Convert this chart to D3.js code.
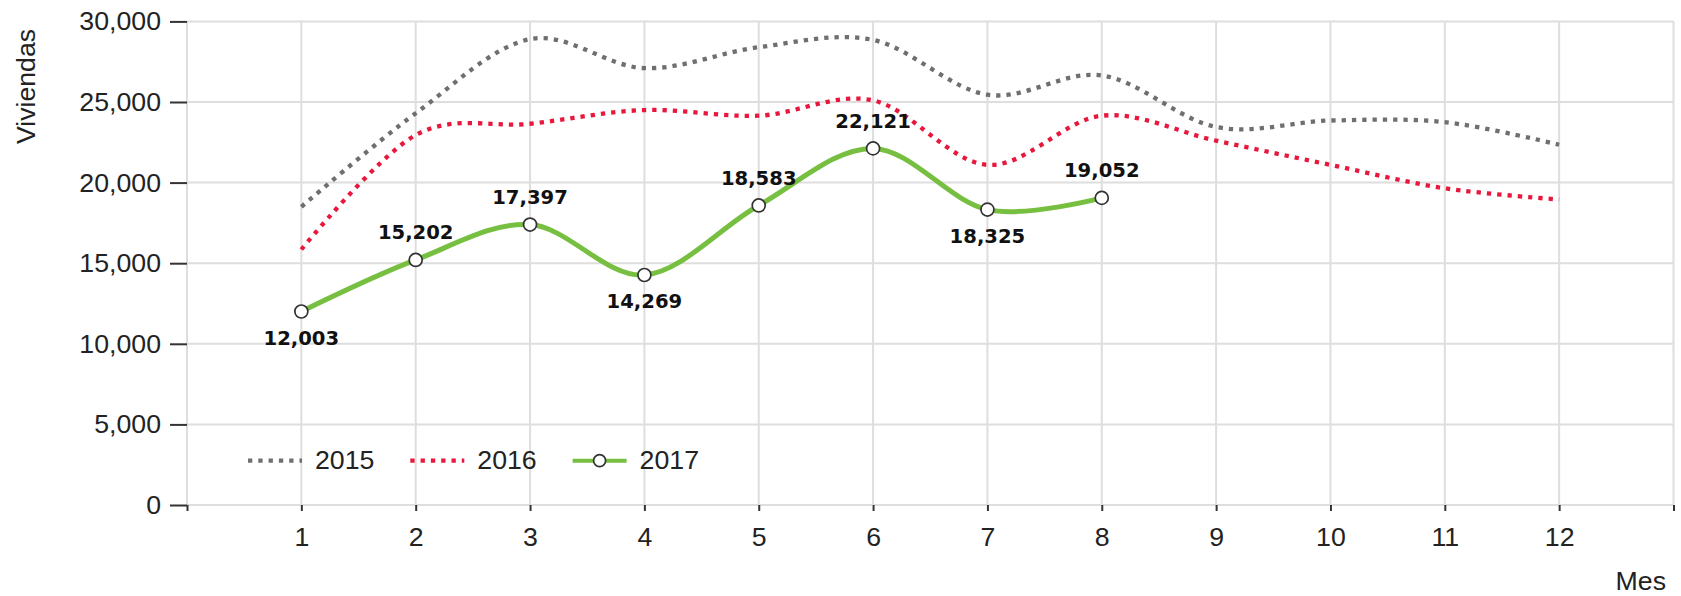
<!DOCTYPE html>
<html>
<head>
<meta charset="utf-8">
<script src="https://cdn.jsdelivr.net/npm/d3@7"></script>
<style>
  body { margin: 0; background: #fff; }
  svg { display: block; font-family: "Liberation Sans", Arial, sans-serif; }
</style>
</head>
<body>
<div class="chart-mount"></div>
<script>
const meses = [1, 2, 3, 4, 5, 6, 7, 8, 9, 10, 11, 12];
const years = ["2015", "2016", "2017"];
const v2015 = [18500, 24300, 28900, 27100, 28400, 28850, 25450, 26650, 23450, 23850, 23750, 22350];
const v2016 = [15850, 22950, 23650, 24500, 24150, 25100, 21100, 24150, 22600, 21100, 19650, 18950];
const v2017 = [12003, 15202, 17397, 14269, 18583, 22121, 18325, 19052];
const yTicks = [0, 5000, 10000, 15000, 20000, 25000, 30000];

const actual_width = 1681;
const actual_height = 596;
const margin = { top: 21.4, right: 7.5, bottom: 91, left: 187 };

const colors = { "2015": "#6f6f6f", "2016": "#e8183c", "2017": "#77bf40" };
const fmt = d3.format(",");

const x = d3.scaleLinear().domain([0, 13]).range([margin.left, actual_width - margin.right]);
const y = d3.scaleLinear().domain([0, 30000]).range([actual_height - margin.bottom, margin.top]);

const svg = d3.select(".chart-mount")
  .append("svg")
  .attr("width", actual_width)
  .attr("height", actual_height);

// grid
const grid = svg.append("g").attr("stroke", "#dedede").attr("stroke-width", 2);
grid.selectAll("line.gx")
  .data(d3.range(0, 14))
  .join("line")
  .attr("x1", (d) => x(d)).attr("x2", (d) => x(d))
  .attr("y1", y(30000)).attr("y2", y(0));
grid.selectAll("line.gy")
  .data(yTicks)
  .join("line")
  .attr("x1", x(0)).attr("x2", x(13))
  .attr("y1", (d) => y(d)).attr("y2", (d) => y(d));

// axes
const yAxis = svg.append("g")
  .attr("transform", `translate(${x(0)},0)`)
  .call(d3.axisLeft(y).tickValues(yTicks).tickSize(17).tickPadding(9).tickFormat(fmt));
const xAxis = svg.append("g")
  .attr("transform", `translate(0,${y(0)})`)
  .call(d3.axisBottom(x).tickValues(d3.range(0, 14)).tickSize(6).tickPadding(16)
    .tickFormat((d) => (d >= 1 && d <= 12 ? d : "")));
[yAxis, xAxis].forEach((a) => {
  a.select(".domain").remove();
  a.selectAll(".tick line").attr("stroke", "#333").attr("stroke-width", 2);
  a.selectAll(".tick text")
    .attr("fill", "#222")
    .style("font-size", "26.7px")
    .style("font-family", '"Liberation Sans", Arial, sans-serif');
});

svg.append("text")
  .attr("transform", "translate(35,86.5) rotate(-90)")
  .attr("text-anchor", "middle")
  .attr("fill", "#222")
  .style("font-size", "26.7px")
  .text("Viviendas");

svg.append("text")
  .attr("x", 1666)
  .attr("y", 590)
  .attr("text-anchor", "end")
  .attr("fill", "#222")
  .style("font-size", "26.7px")
  .text("Mes");

// series
const series = [
  { name: "2015", values: v2015 },
  { name: "2016", values: v2016 },
  { name: "2017", values: v2017 },
].map((s) => ({ name: s.name, points: s.values.map((v, i) => ({ mes: meses[i], v })) }));

const line = d3.line()
  .x((d) => x(d.mes))
  .y((d) => y(d.v))
  .curve(d3.curveCardinal.tension(0));

function styleSeries(sel, name) {
  if (name === "2017") {
    sel.attr("stroke", colors[name]).attr("stroke-width", 5);
  } else {
    sel.attr("stroke", colors[name]).attr("stroke-width", 4.3).attr("stroke-dasharray", "4.3 6");
  }
  return sel;
}

series.forEach((s) => {
  svg.append("path")
    .datum(s.points)
    .attr("fill", "none")
    .attr("d", line)
    .call(styleSeries, s.name);
});

// 2017 markers and labels
const pts = series[2].points;
svg.selectAll("circle.m17")
  .data(pts)
  .join("circle")
  .attr("cx", (d) => x(d.mes))
  .attr("cy", (d) => y(d.v))
  .attr("r", 6.5)
  .attr("fill", "#fff")
  .attr("stroke", "#333")
  .attr("stroke-width", 1.7);

function isLow(i) {
  const prev = i > 0 ? pts[i - 1].v : Infinity;
  const next = i < pts.length - 1 ? pts[i + 1].v : Infinity;
  return pts[i].v < prev && pts[i].v < next;
}

svg.selectAll("text.lbl")
  .data(pts)
  .join("text")
  .attr("x", (d) => x(d.mes))
  .attr("y", (d, i) => y(d.v) + (isLow(i) ? 33 : -20.5))
  .attr("text-anchor", "middle")
  .attr("fill", "#111")
  .style("font-family", '"DejaVu Sans", Verdana, sans-serif')
  .style("font-weight", "bold")
  .style("font-size", "19.6px")
  .text((d) => fmt(d.v));

// legend
const legend = svg.append("g").attr("transform", "translate(248,460.7)");
const item = legend.selectAll("g")
  .data(years)
  .join("g")
  .attr("transform", (d, i) => `translate(${i * 162.3},0)`);
item.append("line")
  .attr("x1", 0).attr("x2", 54)
  .each(function (d) {
    d3.select(this).call(styleSeries, d);
    if (d === "2017") d3.select(this).attr("stroke-width", 4);
  });
item.filter((d) => d === "2017")
  .append("circle")
  .attr("cx", 27).attr("r", 6)
  .attr("fill", "#fff").attr("stroke", "#333").attr("stroke-width", 1.7);
item.append("text")
  .attr("x", 67)
  .attr("y", 8.5)
  .attr("fill", "#222")
  .style("font-size", "26.7px")
  .text((d) => d);
</script>
</body>
</html>
